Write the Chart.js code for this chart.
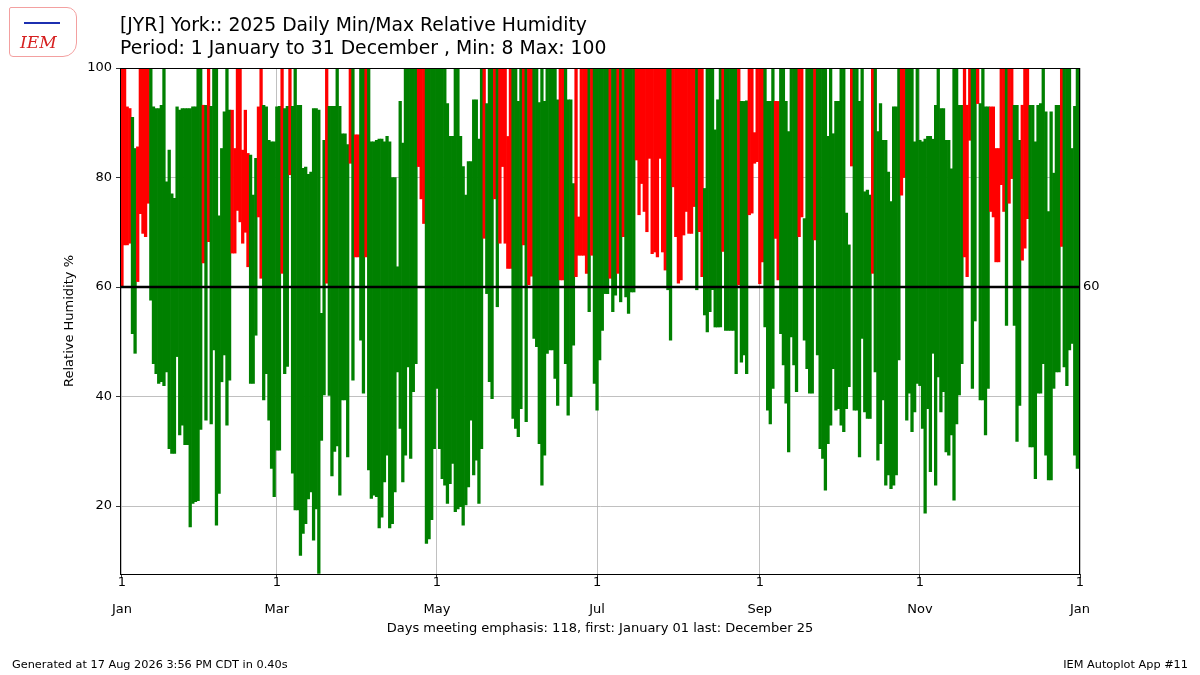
<!DOCTYPE html>
<html>
<head>
<meta charset="utf-8">
<title>York 2025 Daily Min/Max Relative Humidity</title>
<script src="https://cdn.jsdelivr.net/npm/chart.js@4.4.1/dist/chart.umd.min.js"></script>
<style>
  html, body { margin: 0; padding: 0; background: #fff; }
  #wrap { position: relative; width: 1200px; height: 675px; font-family: "DejaVu Sans", sans-serif; color: #000; }
  #chart { position: absolute; left: 0; top: 0; }
  .title { position: absolute; left: 120px; font-size: 18.8px; line-height: 22px; white-space: nowrap; }
  .foot { position: absolute; top: 658px; font-size: 11.3px; line-height: 14px; white-space: nowrap; }
  #logo { position: absolute; left: 9px; top: 7px; width: 66px; height: 48px; border: 1px solid #f3a0a0; border-radius: 2px 10px 14px 4px; }
  #logo span { position: absolute; left: 10px; top: 24px; font-family: "DejaVu Serif", serif; font-style: italic; font-size: 17px; color: #d62020; }
  #logo i { position: absolute; left: 14px; top: 14px; width: 36px; height: 2px; background: #1c2fb0; }
</style>
</head>
<body>
<div id="wrap">
  <canvas id="chart" width="1200" height="675"></canvas>
  <div id="logo"><i></i><span>IEM</span></div>
  <div class="title" style="top:14px">[JYR] York:: 2025 Daily Min/Max Relative Humidity</div>
  <div class="title" style="top:37px">Period: 1 January to 31 December , Min: 8 Max: 100</div>
  <div class="foot" style="left:12px">Generated at 17 Aug 2026 3:56 PM CDT in 0.40s</div>
  <div class="foot" style="right:12px">IEM Autoplot App #11</div>
</div>
<script>
// daily minimum / maximum relative humidity, one line per month (day 0 = 1 Jan)
const dailyMin = [
  60.2,67.7,67.7,68,51.5,47.9,61,73.4,69.8,69.2,75.3,57.6,46,44.2,42.4,42.7,42,44.5,30.5,29.6,29.6,47.3,33,34.8,31.2,31.2,16.2,20.5,20.8,21,34,
  64.4,35.7,68.3,35,48.5,16.5,22.3,42.7,47.6,34.8,43,66.2,66.2,74,71.9,68,70,63.7,42.4,42.4,51.2,72.8,61.6,39.4,44.2,35.7,26.9,21.7,
  30.2,30.2,62.5,44.2,45.5,80.5,26,19.3,19.3,11,15,16.8,21.3,22.6,13.8,19.5,7.7,32,40.3,60.7,40.2,25.5,30,31,22,39.4,39.4,29,82.6,43,65.5,
  65.5,50.3,40.6,65.5,26.6,21.4,22,21.7,16,18,24.4,29.3,16,16.8,22.6,44.5,34.2,24.4,29.3,45.4,28.7,40.9,46,82,76.1,71.6,13.2,14,17.5,30.5,
  41.5,30.5,25,23.8,20.5,24.1,27.8,19,19.5,19.9,16.5,20.2,23.5,35.7,25.7,28.4,20.5,30.5,68.9,58.8,42.7,39.6,76.1,56.4,68,82,68,63.4,63.4,36,34.2,
  32.7,37.8,67.7,35.4,60.4,62,50.6,49.1,31.4,23.8,29.3,47.9,48.5,48.5,43.3,38.4,61.3,61.3,46,36.6,40,49.4,61.9,65.8,65.8,65.8,62.5,55.5,65.8,42.4,
  37.5,46.7,52.1,58.8,58.8,61.6,55.5,58.5,62.5,57.3,69.2,58.2,55.2,59.1,59.1,83.2,73.2,78.9,73.8,70.1,83.5,66.1,66.4,65.5,83.5,66.4,63.1,59.5,50.3,78.3,69.2,
  60.7,61.3,69.5,73.8,69.8,69.8,74.7,59.5,70.1,61.9,54.9,51.8,55.5,59.5,52.7,52.7,52.7,66.5,52.1,52.1,52.1,52.1,44.2,60.4,46.3,47.6,44.2,73.2,73.5,82.6,82.9,
  60.6,64.6,52.7,37.5,35,41.5,68.9,61.3,51.5,45.8,38.8,29.9,50.9,45.8,40.9,69.2,72.8,50.3,45.1,40.6,40.6,68.6,47.6,30.5,28.7,22.9,31.4,34.8,45.1,37.5,
  37.8,34.8,33.6,37.8,41.8,82.1,37.5,37.5,29,50.6,37.2,36,36,62.5,44.5,28.4,31.4,39.4,23.8,25.7,23.2,23.8,25.7,46.7,76.8,80,35.7,40.6,33.6,37.2,42.4,
  42,34.2,18.7,37.8,26.3,47.9,23.8,43.6,37.2,40.9,29.9,29.3,33,21.1,35,40.3,46,65.5,61.9,86.8,41.5,53.8,93.5,39.4,39.4,33,41.5,73.8,72.8,64.6,
  64.6,78.7,73.8,53,75.3,79.8,53,31.8,38.4,64.9,67.1,72.5,30.8,30.8,25,40.6,40.6,46,29.3,24.8,24.8,41.5,44.5,44.5,67.4,45.4,42,48.5,49.7,29.3,26.9
];
const dailyMax = [
  100,100,92.9,92.6,91,85.3,85.6,100,100,100,100,100,92.9,92.6,92.6,93.2,100,79.2,85,77,76.2,92.9,92.3,92.6,92.6,92.6,92.6,92.9,92.9,100,100,
  93.2,93.2,100,93,100,100,73,85.3,92,100,92.3,92.3,85.3,100,100,85,92.3,84.4,84.1,76.8,83.5,92.9,100,93.2,92.9,86.8,86.5,86.5,
  92.9,93,100,92.6,93,100,93,100,93.2,93.2,81.7,81.9,80.6,81,92.6,92.6,92.3,55.2,86.8,100,93,93,93,100,93,88,88,86,100,100,87.8,
  87.8,100,100,100,100,86.5,86.5,86.8,87,87,86.5,87.5,86.5,80,80,63.7,93.9,86.3,100,100,100,100,100,100,100,100,100,100,100,100,
  100,100,100,100,93.5,87.5,87.5,100,100,87.5,82,76.8,82.9,82.9,94.2,94.2,87,100,100,93.5,100,100,100,100,100,100,100,87.5,100,100,100,
  93.9,100,100,100,100,100,100,100,93.7,100,93.9,100,100,100,100,94.2,100,100,100,94.2,94.2,78.9,100,72.8,100,100,100,100,100,100,
  100,100,100,100,100,100,100,100,100,100,100,100,100,100,100,100,100,100,100,100,100,100,100,100,100,100,100,100,100,100,100,
  100,100,100,100,100,100,100,100,100,100,78,100,100,100,88.7,94.2,100,100,100,100,100,100,100,100,93.9,93.9,94,100,100,88.2,100,
  100,100,100,93.9,93.9,100,93.9,93.9,100,100,93.9,88.4,100,100,100,100,100,72.5,100,100,100,100,100,100,100,100,87.5,100,88,93.9,
  93.9,100,100,73.5,67.7,100,100,100,93.9,100,77.4,77.7,76.8,100,100,88.4,93.5,86.8,86.8,81,75.6,92.9,92.9,100,100,100,100,100,100,86.5,100,
  86.8,86.5,87,87.5,87.5,87,93.2,100,92.6,92.6,86.8,86.8,81.6,100,100,93.2,93.2,100,93.2,100,100,100,100,93.5,100,92.9,92.9,92.9,92.9,85.3,
  85.3,100,100,100,100,100,93.2,93.2,86.8,93.2,100,100,93.2,93.2,86.5,93.2,93.5,100,92,73.8,92,80.8,93.2,93.2,100,100,100,100,85.3,93,100
];

const threshold = 60;
const tickDays = [0, 59, 120, 181, 243, 304, 365];
const tickDayLabels = ['1', '1', '1', '1', '1', '1', '1'];
const tickMonthLabels = ['Jan', 'Mar', 'May', 'Jul', 'Sep', 'Nov', 'Jan'];
const yTicks = [20, 40, 60, 80, 100];

const FONT = '"DejaVu Sans", sans-serif';

const points = dailyMin.map((lo, i) => ({ x: i, y: [lo, dailyMax[i]] }));
const colors = dailyMin.map(lo => lo >= threshold ? '#ff0000' : '#008000');

// black threshold line with its label, plus the full axes frame
const framePlugin = {
  id: 'frame',
  afterDatasetsDraw(chart) {
    const { ctx, chartArea: a, scales } = chart;
    const y = scales.y.getPixelForValue(threshold);
    ctx.save();
    ctx.strokeStyle = '#000';
    ctx.lineWidth = 2.6;
    ctx.beginPath();
    ctx.moveTo(a.left, y);
    ctx.lineTo(a.right, y);
    ctx.stroke();
    ctx.fillStyle = '#000';
    ctx.font = '13px ' + FONT;
    ctx.textBaseline = 'middle';
    ctx.fillText(String(threshold), a.right + 3, y);
    ctx.restore();
  },
  afterDraw(chart) {
    const { ctx, chartArea: a } = chart;
    ctx.save();
    ctx.strokeStyle = '#000';
    ctx.lineWidth = 1;
    ctx.strokeRect(a.left + 0.5, a.top + 0.5, a.right - a.left - 1, a.bottom - a.top);
    ctx.restore();
  }
};

new Chart(document.getElementById('chart').getContext('2d'), {
  type: 'bar',
  data: {
    datasets: [{
      data: points,
      backgroundColor: colors,
      borderWidth: 0,
      barPercentage: 1,
      categoryPercentage: 1,
      grouped: false
    }]
  },
  options: {
    responsive: false,
    animation: false,
    devicePixelRatio: 1,
    layout: { padding: { left: 0, right: 120, top: 68, bottom: 35 } },
    plugins: {
      legend: { display: false },
      tooltip: { enabled: false }
    },
    scales: {
      x: {
        type: 'linear',
        min: -0.75,
        max: 365,
        offset: false,
        z: 1,
        afterBuildTicks: s => { s.ticks = tickDays.map(v => ({ value: v })); },
        afterFit: s => { s.height = 66; },
        ticks: {
          autoSkip: false,
          maxRotation: 0,
          padding: -9,
          color: '#000',
          font: { family: FONT, size: 13, lineHeight: 2.1 },
          callback: (v, i) => [tickDayLabels[i], tickMonthLabels[i]]
        },
        grid: { offset: false, color: '#b0b0b0', lineWidth: 0.8, tickLength: 4, tickColor: '#000' },
        border: { color: '#000', width: 1 },
        title: {
          display: true,
          text: 'Days meeting emphasis: 118, first: January 01 last: December 25',
          color: '#000',
          font: { family: FONT, size: 13 },
          padding: { top: 0, bottom: 4 }
        }
      },
      y: {
        min: 7.6,
        max: 100,
        z: 1,
        afterBuildTicks: s => { s.ticks = yTicks.map(v => ({ value: v })); },
        afterFit: s => { s.width = 120; },
        ticks: {
          padding: 4,
          color: '#000',
          font: { family: FONT, size: 13 }
        },
        grid: { color: '#b0b0b0', lineWidth: 0.8, tickLength: 4, tickColor: '#000' },
        border: { color: '#000', width: 1 },
        title: {
          display: true,
          text: 'Relative Humidity %',
          color: '#000',
          font: { family: FONT, size: 13 },
          padding: { top: 62, bottom: 0 }
        }
      }
    }
  },
  plugins: [framePlugin]
});
</script>
</body>
</html>
